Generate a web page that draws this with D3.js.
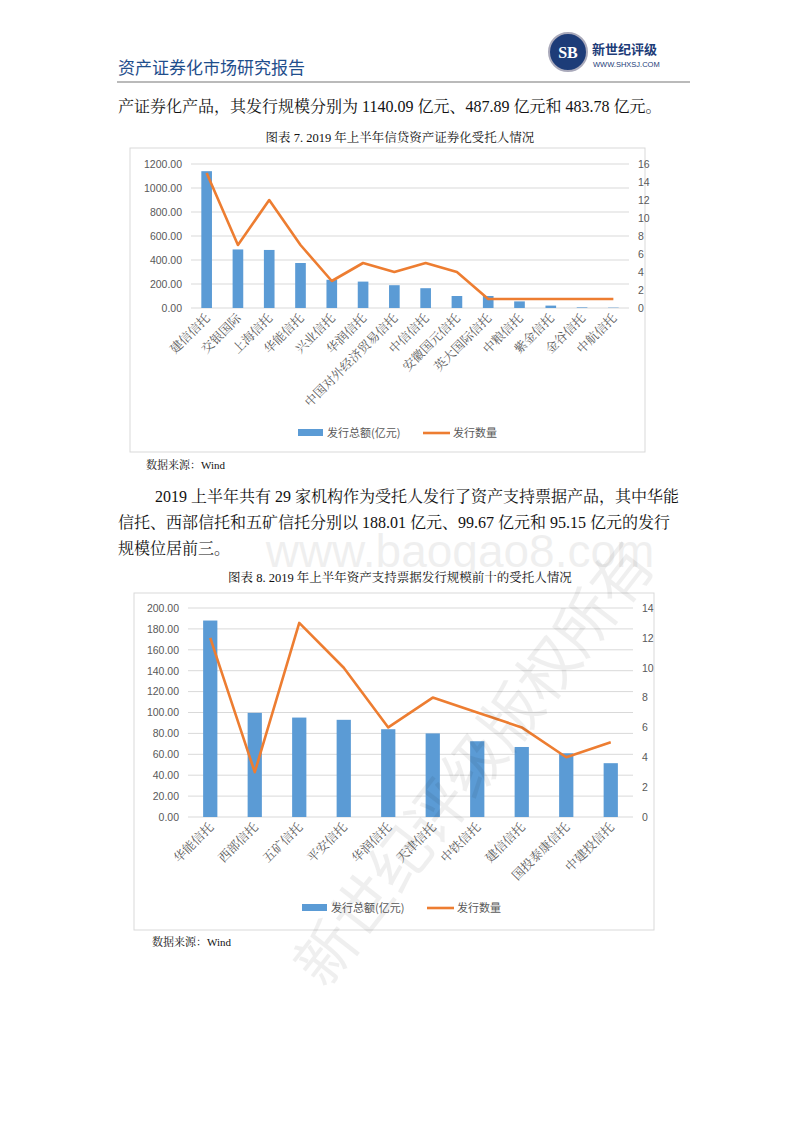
<!DOCTYPE html>
<html><head><meta charset="utf-8">
<script src="https://cdn.jsdelivr.net/npm/d3@7"></script>
<style>body{margin:0;background:#fff}svg{display:block}</style></head>
<body><svg id="s" width="800" height="1132"></svg>
<script>
const cats1=["建信信托","交银国际","上海信托","华能信托","兴业信托","华润信托","中国对外经济贸易信托","中信信托","安徽国元信托","英大国际信托","中粮信托","紫金信托","金谷信托","中航信托"];
const amt1=[1140.09,487.89,483.78,375,235,220,190,165,100,100,55,20,5,3];
const cnt1=[15,7,12,7,3,5,4,5,4,1,1,1,1,1];
const ticksL1=[0,200,400,600,800,1000,1200];
const ticksR1=[0,2,4,6,8,10,12,14,16];
const cats2=["华能信托","西部信托","五矿信托","平安信托","华润信托","天津信托","中铁信托","建信信托","国投泰康信托","中建投信托"];
const amt2=[188.01,99.67,95.15,93,84,80,72.5,67,61,51.5];
const cnt2=[12,3,13,10,6,8,7,6,4,5];
const ticksL2=[0,20,40,60,80,100,120,140,160,180,200];
const ticksR2=[0,2,4,6,8,10,12,14];

const svg=d3.select("#s");
const serif="'Liberation Serif','Noto Serif CJK SC','Noto Sans CJK SC',serif";
const sans="'Noto Sans CJK SC','Noto Sans',sans-serif";
svg.append("text").attr("x",460).attr("y",567).attr("text-anchor","middle").attr("font-family","'Liberation Sans',sans-serif").attr("font-size",46).attr("fill","#000").attr("opacity",0.06).text("www.baogao8.com");
svg.append("text").attr("x",118).attr("y",74).attr("font-family",sans).attr("font-size",17).attr("fill","#1f4e8c").text("资产证券化市场研究报告");
svg.append("line").attr("x1",117).attr("x2",690).attr("y1",82).attr("y2",82).attr("stroke","#777").attr("stroke-width",1.2);
svg.append("circle").attr("cx",568).attr("cy",52).attr("r",19).attr("fill","#1d3c78").attr("stroke","#aab").attr("stroke-width",2);
svg.append("text").attr("x",568).attr("y",58).attr("text-anchor","middle").attr("font-family",serif).attr("font-size",16).attr("font-weight","bold").attr("fill","#fff").text("SB");
svg.append("text").attr("x",592).attr("y",54).attr("font-family",sans).attr("font-size",13).attr("font-weight","bold").attr("fill","#1d3c78").text("新世纪评级");
svg.append("text").attr("x",593).attr("y",67).attr("font-family","Liberation Sans,sans-serif").attr("font-size",7.5).attr("fill","#1d3c78").text("WWW.SHXSJ.COM");
const T=(x,y,s,t,anchor,ff)=>svg.append("text").attr("x",x).attr("y",y).attr("font-family",ff||serif).attr("font-size",s).attr("text-anchor",anchor||"start").attr("fill","#111").text(t);
T(118,112,16,"产证券化产品，其发行规模分别为 1140.09 亿元、487.89 亿元和 483.78 亿元。");
T(400,142,12.5,"图表 7.   2019 年上半年信贷资产证券化受托人情况","middle");
T(146,469,11,"数据来源：Wind");
T(155,502,16,"2019 上半年共有 29 家机构作为受托人发行了资产支持票据产品，其中华能");
T(118,528,16,"信托、西部信托和五矿信托分别以 188.01 亿元、99.67 亿元和 95.15 亿元的发行");
T(118,554,16,"规模位居前三。");
T(400,582,12.5,"图表 8.   2019 年上半年资产支持票据发行规模前十的受托人情况","middle");
T(152,946,11,"数据来源：Wind");

function chart(o){
  const g=svg.append("g");
  g.append("rect").attr("x",o.fx).attr("y",o.fy).attr("width",o.fw).attr("height",o.fh).attr("fill","#fff").attr("stroke","#d9d9d9");
  const x=d3.scaleBand().domain(o.cats).range([o.x0,o.x1]).paddingInner(o.pi).paddingOuter(o.po);
  const yL=d3.scaleLinear().domain([0,o.ticksL[o.ticksL.length-1]]).range([o.y0,o.y1]);
  const yR=d3.scaleLinear().domain([0,o.ticksR[o.ticksR.length-1]]).range([o.y0,o.y1]);
  g.selectAll(".g").data(o.ticksL).join("line").attr("x1",o.x0).attr("x2",o.x1).attr("y1",d=>yL(d)).attr("y2",d=>yL(d)).attr("stroke","#d9d9d9");
  const al=g.append("g").attr("transform",`translate(${o.x0-6},0)`).call(d3.axisLeft(yL).tickValues(o.ticksL).tickFormat(d3.format(".2f")).tickSize(0));
  al.select(".domain").remove();
  al.selectAll("text").attr("font-family","'Liberation Sans',sans-serif").attr("font-size",10.5).attr("fill","#595959");
  const ar=g.append("g").attr("transform",`translate(${o.x1+6},0)`).call(d3.axisRight(yR).tickValues(o.ticksR).tickSize(0));
  ar.select(".domain").remove();
  ar.selectAll("text").attr("font-family","'Liberation Sans',sans-serif").attr("font-size",10.5).attr("fill","#595959");
  g.selectAll(".b").data(o.amt).join("rect").attr("x",(d,i)=>x(o.cats[i])).attr("width",x.bandwidth()).attr("y",d=>yL(d)).attr("height",d=>o.y0-yL(d)).attr("fill","#5b9bd5");
  g.append("path").datum(o.cnt).attr("fill","none").attr("stroke","#ed7d31").attr("stroke-width",2.6).attr("stroke-linejoin","round")
    .attr("d",d3.line().x((d,i)=>x(o.cats[i])+x.bandwidth()/2).y(d=>yR(d)));
  g.selectAll(".c").data(o.cats).join("text").attr("font-family",serif).attr("font-size",12.5).attr("fill","#595959").attr("text-anchor","end")
    .attr("transform",d=>`translate(${x(d)+x.bandwidth()/2+4},${o.y0+11}) rotate(-45)`).text(d=>d);
  const lg=g.append("g").attr("transform",`translate(${o.lx},${o.ly})`);
  lg.append("rect").attr("x",0).attr("y",-4).attr("width",25).attr("height",7).attr("fill","#5b9bd5");
  lg.append("text").attr("x",29).attr("y",4).attr("font-family",sans).attr("font-size",11).attr("fill","#595959").text("发行总额(亿元)");
  lg.append("line").attr("x1",125).attr("x2",152).attr("y1",0).attr("y2",0).attr("stroke","#ed7d31").attr("stroke-width",2.6);
  lg.append("text").attr("x",155).attr("y",4).attr("font-family",sans).attr("font-size",11).attr("fill","#595959").text("发行数量");
}
chart({cats:cats1,amt:amt1,cnt:cnt1,ticksL:ticksL1,ticksR:ticksR1,pi:0.66,po:0.33,fx:130,fy:148,fw:515,fh:304,x0:191,x1:629,y0:308,y1:164,lx:298,ly:433});
chart({cats:cats2,amt:amt2,cnt:cnt2,ticksL:ticksL2,ticksR:ticksR2,pi:0.68,po:0.34,fx:134,fy:593,fw:520,fh:337,x0:188,x1:633,y0:817,y1:608,lx:302,ly:908});
svg.append("text").attr("transform","translate(325,990) rotate(-52)").attr("font-family",sans).attr("font-size",60).attr("fill","#000").attr("opacity",0.06).text("新世纪评级版权所有");
</script>
</body></html>
